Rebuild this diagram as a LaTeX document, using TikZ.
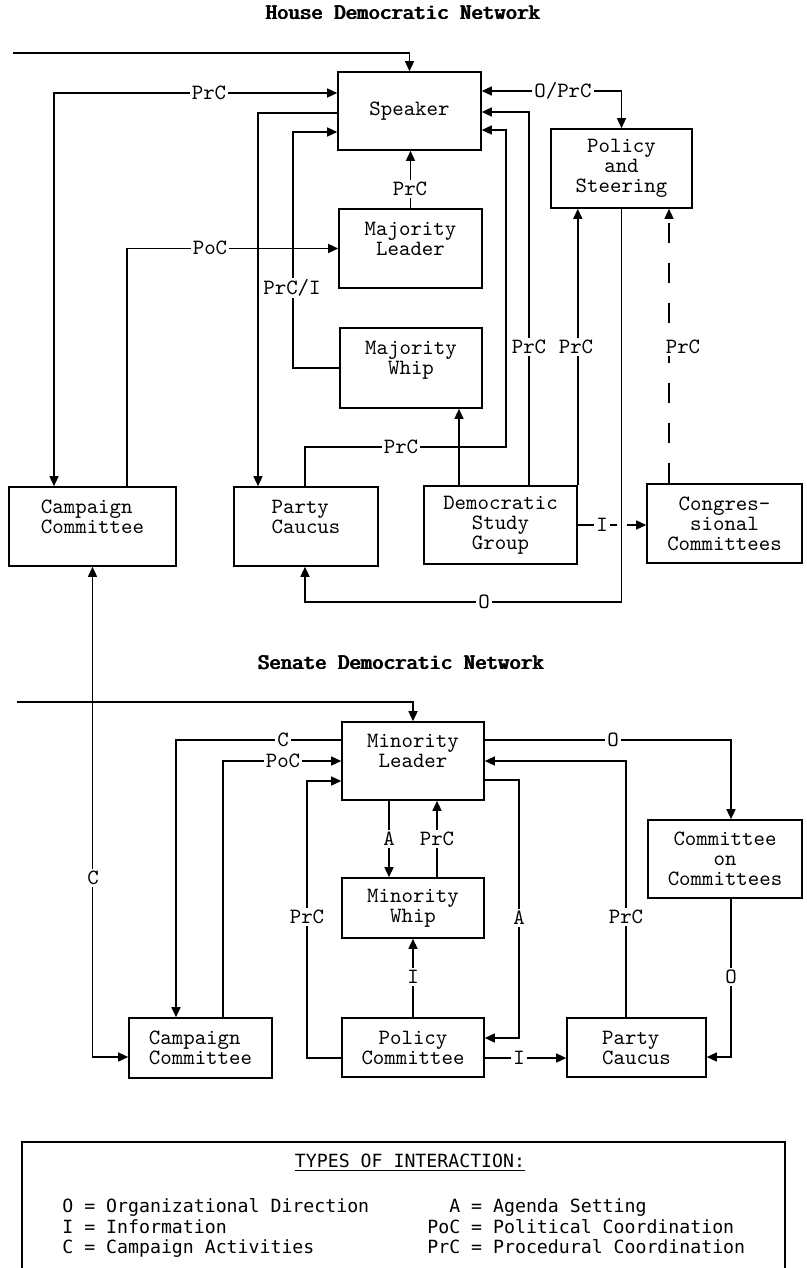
\documentclass[tikz,border=0pt]{standalone}
\usepackage{fontspec}
\newfontfamily\keyfont{DejaVu Sans Mono}
\usetikzlibrary{arrows.meta}
\newcommand\overstrike[1]{\rlap{#1}\kern.35pt\rlap{#1}\kern.35pt#1}

\begin{document}
\begin{tikzpicture}
      [ x = .5pt
      , y = -.5pt
      , font = \fontsize{10.9}{10}\ttfamily
      , box/.style 2 args =
        { draw, line width=.8pt, inner sep=0pt, align=center
        , minimum width=#1*.5pt, minimum height=#2*.5pt }
      , wire/.style =
        { line width=.7pt }
      , towards/.style =
        { wire, -{Triangle[length=5pt,width=4.5pt]} }
      , twoway/.style =
        { wire, {Triangle[length=5pt,width=4.5pt]}-{Triangle[length=5pt,width=4.5pt]} }
      , faint/.style =
        { dash pattern=on 10pt off 10pt }
      , tag/.style =
        { fill=white, inner sep=1pt }
      , heading/.style =
        { font=\fontsize{11.1}{10}\ttfamily }
      , key/.style =
        { font=\fontsize{9.1}{10}\keyfont, anchor=base west, inner sep=0pt }
      ]
      \useasboundingbox (0,0) rectangle (807,1268);
      % house network
      \node [heading] (hhead) at (403,13) {\overstrike{House Democratic Network}};
      \node [box={143}{78}] (spk) at (409.5,111) {Speaker};
      \node [box={143}{79}] (mjl) at (410.5,248.5) {Majority\\Leader\\\mbox{}};
      \node [box={142}{80}] (mjw) at (411,368) {Majority\\Whip\\\mbox{}};
      \node [box={141}{79}] (pst) at (621.5,168.5) {Policy\\and\\Steering};
      \node [box={167}{79}, align=left] (hcc) at (92.5,526.5) {Campaign\\Committee\\\mbox{}};
      \node [box={144}{79}, align=left] (hpc) at (306,526.5) {Party\\Caucus\\\mbox{}};
      \node [box={153}{78}] (dsg) at (500.5,525) {Democratic\\Study\\Group};
      \node [box={155}{79}] (cgc) at (724.5,523.5) {Congres-\\sional\\Committees};
      \coordinate (hin) at (13,53);
      \draw [towards] (hin) -| (spk.north);
      \draw [twoway] (hcc.north -| 54,0) |- (spk.west |- 0,93);
      \draw [towards] (spk.west |- 0,113) -| (hpc.north -| 258,0);
      \draw [towards] (mjw.west) -| (293,132) -- (spk.west |- 0,132);
      \draw [towards] (hcc.north -| 127,0) |- (mjl.west);
      \draw [towards] (mjl.north) -- (spk.south -| mjl.north);
      \draw [towards] (hpc.north -| 305,0) |- (506,447) |- (spk.east |- 0,130);
      \draw [towards] (dsg.north -| 459,0) -- (mjw.south -| 459,0);
      \draw [towards] (dsg.north -| 529,0) |- (spk.east |- 0,112);
      \draw [towards] (dsg.north east) -- (pst.south -| dsg.north east);
      \draw [twoway] (spk.east |- 0,91) -| (pst.north);
      \draw [towards, faint] (cgc.north -| 669,0) -- (pst.south -| 669,0);
      \draw [towards] (dsg.east) -- (cgc.west |- dsg.east);
      \draw [towards, preaction={draw=white, line width=5pt, arrows=-, shorten <=2pt, shorten >=2pt}]
        (pst.south) |- (305,602) -- (hpc.south -| 305,0);
      \node [tag] (t1) at (209,93) {PrC};
      \node [tag] (t2) at (292,288) {PrC/I};
      \node [tag] (t3) at (210,248) {PoC};
      \node [tag] (t4) at (410,189) {PrC};
      \node [tag] (t5) at (401,447) {PrC};
      \node [tag] (t6) at (529,347) {PrC};
      \node [tag] (t7) at (576,347) {PrC};
      \node [tag] (t8) at (563,91) {O/PrC};
      \node [tag] (t9) at (683,347) {PrC};
      \node [tag] (t10) at (602,525) {I};
      \node [tag] (t11) at (484,602) {O};
      % senate network
      \node [heading] (shead) at (401,663) {\overstrike{Senate Democratic Network}};
      \node [box={142}{78}] (mnl) at (413,761) {Minority\\Leader\\\mbox{}};
      \node [box={142}{60}] (mnw) at (413,908) {Minority\\Whip};
      \node [box={142}{59}] (pco) at (413,1047.5) {Policy\\Committee};
      \node [box={139}{59}, align=left] (spc) at (636.5,1047.5) {Party\\Caucus};
      \node [box={154}{78}] (coc) at (725,859) {Committee\\on\\Committees};
      \node [box={143}{60}, align=left] (scc) at (200.5,1048) {Campaign\\Committee};
      \coordinate (sin) at (17,702);
      \draw [twoway] (hcc.south) |- (scc.west |- 0,1057);
      \draw [towards] (sin) -| (mnl.north);
      \draw [towards] (mnl.west |- 0,740) -| (scc.north -| 176,0);
      \draw [towards] (scc.north -| 223,0) |- (mnl.west);
      \draw [towards] (pco.west |- 0,1058) -| (307,781) -- (mnl.west |- 0,781);
      \draw [towards] (mnl.south -| 389,0) -- (mnw.north -| 389,0);
      \draw [towards] (mnw.north -| 437,0) -- (mnl.south -| 437,0);
      \draw [towards] (pco.north) -- (mnw.south);
      \draw [towards] (mnl.east |- 0,780) -| (519,1038) -- (pco.east |- 0,1038);
      \draw [towards] (pco.east |- 0,1058) -- (spc.west |- 0,1058);
      \draw [towards] (spc.north -| 626,0) |- (mnl.east);
      \draw [towards] (mnl.east |- 0,740) -| (coc.north -| 731,0);
      \draw [towards] (coc.south -| 731,0) |- (spc.east |- 0,1057);
      \node [tag] (t12) at (93,878) {C};
      \node [tag] (t13) at (283,740) {C};
      \node [tag] (t14) at (283,761) {PoC};
      \node [tag] (t15) at (307,917) {PrC};
      \node [tag] (t16) at (389,839) {A};
      \node [tag] (t17) at (437,839) {PrC};
      \node [tag] (t18) at (413,977) {I};
      \node [tag] (t19) at (519,918) {A};
      \node [tag] (t20) at (519,1058) {I};
      \node [tag] (t21) at (626,917) {PrC};
      \node [tag] (t22) at (613,740) {O};
      \node [tag] (t23) at (731,977) {O};
      % key
      \draw [wire] (22,1268) -- (22,1142) -- (785,1142) -- (785,1268);
      \node [key, anchor=center] (khead) at (410,1163) {\underline{TYPES OF INTERACTION:}};
      \node [key] (k1) at (62,1212.5) {O = Organizational Direction};
      \node [key] (k2) at (62,1233.5) {I = Information};
      \node [key] (k3) at (62,1253.5) {C = Campaign Activities};
      \node [key] (k4) at (427,1212.5) {\phantom{Po}A = Agenda Setting};
      \node [key] (k5) at (427,1233.5) {PoC = Political Coordination};
      \node [key] (k6) at (427,1253.5) {PrC = Procedural Coordination};
\end{tikzpicture}
\end{document}
